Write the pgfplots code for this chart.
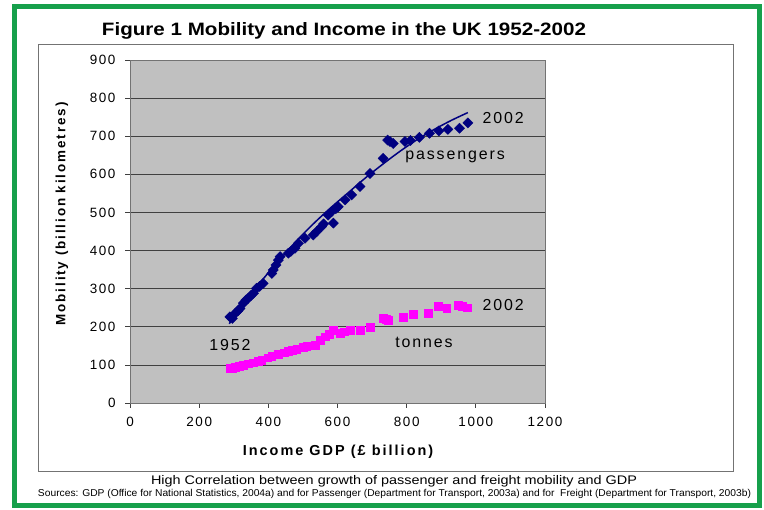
\documentclass[border=0pt]{standalone}
\usepackage{pgfplots}
\pgfplotsset{compat=1.18}
\usepackage{fontspec}
\setmainfont{Liberation Sans}
\newfontfamily\lsfont[LetterSpace=12]{Liberation Sans}
\newfontfamily\lsbfont[LetterSpace=14]{Liberation Sans}
\definecolor{navyb}{RGB}{0,0,128}
\definecolor{mag}{RGB}{255,0,255}
\definecolor{plotbg}{RGB}{192,192,192}
\definecolor{framegreen}{RGB}{22,160,75}

\pgfplotstableread{
x y
289 226
296 222
304 235
312 242
318 248
328 262
335 270
342 275
350 282
357 288
366 301
375 306
385 314
410 340
414 349
422 362
429 375
434 384
458 393
465 398
477 406
487 419
506 432
530 441
540 450
554 463
560 470
573 493
583 502
588 472
595 510
602 515
622 533
641 546
665 568
694 602
732 642
745 690
752 686
761 681
795 686
811 689
837 697
866 708
893 714
919 718
953 721
977 735
}\passengers

\pgfplotstableread{
x y
287 208
330 262
380 320
430 373
480 424
530 470
580 512
630 551
680 590
730 626
780 660
830 691
880 718
930 742
977 762
}\trend

\pgfplotstableread{
x y
289 91
296 92
304 94
315 97
328 100
342 103
357 106
370 109
381 113
398 119
410 123
429 129
445 132
458 135
470 138
482 141
500 146
511 150
535 152
549 165
564 174
575 180
588 192
607 184
620 187
636 190
665 192
694 198
733 222
740 220
747 218
790 225
819 233
863 235
892 253
916 248
949 257
960 254
974 250
}\tonnes

\begin{document}
\begin{tikzpicture}
\useasboundingbox (0bp,0bp) rectangle (764bp,510bp);
\draw[framegreen, line width=5bp] (14.5bp,4bp) rectangle (759bp,503bp);
\draw[black!55, line width=0.8bp] (38bp,39bp) rectangle (733bp,466bp);
\node[font=\bfseries\fontsize{18}{20}\selectfont] at (344bp,479bp)
  {\resizebox{484bp}{\height}{Figure 1 Mobility and Income in the UK 1952-2002}};
\node[rotate=90, font=\lsbfont\bfseries\fontsize{13.5}{15}\selectfont] at (62bp,296bp)
  {Mobility (billion kilometres)};
\node[font=\lsbfont\bfseries\fontsize{14.5}{16}\selectfont] at (338bp,58bp)
  {Income GDP (\pounds{} billion)};
\node[font=\fontsize{12.5}{14}\selectfont] at (394bp,29bp)
  {\resizebox{486bp}{\height}{High Correlation between growth of passenger and freight mobility and GDP}};
\node[font=\fontsize{10}{12}\selectfont] at (394.5bp,16bp)
  {\resizebox{713bp}{\height}{Sources: GDP (Office for National Statistics, 2004a) and for Passenger (Department for Transport, 2003a) and for\ \ Freight (Department for Transport, 2003b)}};
\begin{axis}[
  at={(130bp,107bp)}, anchor=south west,
  scale only axis, width=415bp, height=343bp,
  xmin=0, xmax=1200, ymin=0, ymax=900,
  xtick={0,200,...,1200}, ytick={0,100,...,900},
  xtick pos=bottom, ytick pos=left,
  tick align=outside, major tick length=5bp,
  tick style={black!75, line width=0.7bp},
  axis line style={black!55, line width=0.8bp},
  axis background/.style={fill=plotbg},
  ymajorgrids, grid style={black!75, line width=0.7bp},
  /pgf/number format/assume math mode=true,
  /pgf/number format/1000 sep={},
  tick label style={font=\lsfont\fontsize{13.5}{15}\selectfont},
  yticklabel style={xshift=-6bp},
  xticklabel style={yshift=-6bp},
  clip=false,
]
\addplot[only marks, mark=square*, mark size=3.6bp, color=navyb,
  mark options={rotate=45, fill=navyb, draw=navyb}] table[x=x,y=y] {\passengers};
\addplot[navyb, line width=1.5bp, smooth, mark=none] table[x=x,y=y] {\trend};
\addplot[only marks, mark=square*, mark size=3.9bp, color=mag,
  mark options={fill=mag, draw=mag}] table[x=x,y=y] {\tonnes};
\node[font=\lsfont\fontsize{16}{18}\selectfont] at (axis cs:1079,748) {2002};
\node[font=\lsfont\fontsize{16}{18}\selectfont] at (axis cs:940,645) {passengers};
\node[font=\lsfont\fontsize{16}{18}\selectfont] at (axis cs:1079,257) {2002};
\node[font=\lsfont\fontsize{16}{18}\selectfont] at (axis cs:850,160) {tonnes};
\node[font=\lsfont\fontsize{16}{18}\selectfont] at (axis cs:289,152) {1952};
\end{axis}
\end{tikzpicture}
\end{document}
